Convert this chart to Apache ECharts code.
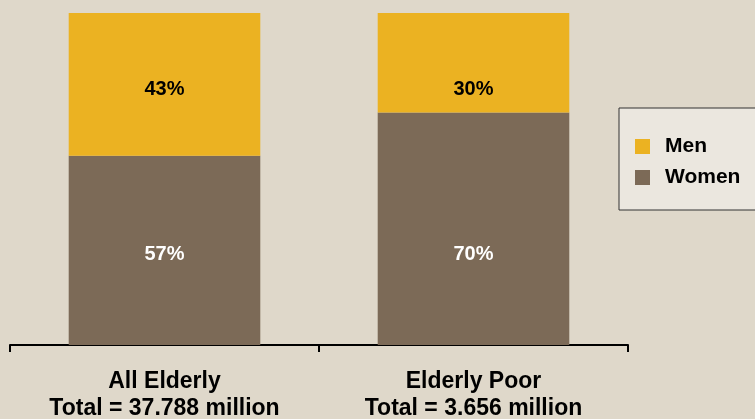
<!DOCTYPE html>
<html>
<head>
<meta charset="utf-8">
<script src="https://cdn.jsdelivr.net/npm/echarts@6/dist/echarts.min.js"></script>
<style>
  html, body { margin: 0; padding: 0; background: #dfd8ca; }
  #chart { width: 755px; height: 419px; }
</style>
</head>
<body>
<div id="chart"></div>
<script>
// Share of elderly by sex, all elderly vs. elderly poor
const categories = ['All Elderly\nTotal = 37.788 million', 'Elderly Poor\nTotal = 3.656 million'];
const women = [57, 70];
const men = [43, 30];

const chart = echarts.init(document.getElementById('chart'));

const labelFont = { fontFamily: 'Liberation Sans, Arial, sans-serif', fontWeight: 'bold', fontSize: 20 };

chart.setOption({
  backgroundColor: '#dfd8ca',
  animation: false,
  grid: { left: 10, right: 127, top: 13, bottom: 74, containLabel: false, outerBoundsMode: 'none' },
  legend: {
    orient: 'vertical',
    left: 619,
    top: 108,
    data: ['Men', 'Women'],
    icon: 'rect',
    itemWidth: 15,
    itemHeight: 15,
    itemGap: 10,
    padding: [28, 40, 22, 16],
    backgroundColor: '#ebe7df',
    borderColor: '#333333',
    borderWidth: 1,
    textStyle: {
      color: '#000',
      fontFamily: 'Liberation Sans, Arial, sans-serif',
      fontWeight: 'bold',
      fontSize: 21,
      padding: [0, 0, 0, 10]
    }
  },
  xAxis: {
    type: 'category',
    data: categories,
    axisLine: { lineStyle: { color: '#000', width: 2 } },
    axisTick: { show: true, length: 7, lineStyle: { color: '#000', width: 2 } },
    axisLabel: {
      color: '#000',
      fontFamily: 'Liberation Sans, Arial, sans-serif',
      fontWeight: 'bold',
      fontSize: 23,
      lineHeight: 27,
      margin: 23
    }
  },
  yAxis: {
    type: 'value',
    min: 0,
    max: 100,
    show: false,
    splitLine: { show: false }
  },
  series: [
    {
      name: 'Women',
      type: 'bar',
      stack: 'total',
      data: women,
      barWidth: '62%',
      itemStyle: { color: '#7c6a57' },
      label: { show: true, position: 'inside', formatter: '{c}%', color: '#ffffff', ...labelFont }
    },
    {
      name: 'Men',
      type: 'bar',
      stack: 'total',
      data: men,
      barWidth: '62%',
      itemStyle: { color: '#ebb222' },
      label: { show: true, position: 'inside', formatter: '{c}%', color: '#000000', ...labelFont }
    }
  ]
});

// Put each series' labels on one shared row: the middle of that
// series' segment in the first bar (nudged slightly down).
function segMidY(catIdx, base, val) {
  return chart.convertToPixel({ gridIndex: 0 }, [catIdx, base + val / 2])[1];
}
const womenRow = segMidY(0, 0, women[0]) + 4;
const menRow = segMidY(0, women[0], men[0]) + 5;

chart.setOption({
  series: [
    {
      name: 'Women',
      data: women.map((v, i) => ({
        value: v,
        label: { offset: [0, womenRow - segMidY(i, 0, v)] }
      }))
    },
    {
      name: 'Men',
      data: men.map((v, i) => ({
        value: v,
        label: { offset: [0, menRow - segMidY(i, women[i], v)] }
      }))
    }
  ]
});
</script>
</body>
</html>
